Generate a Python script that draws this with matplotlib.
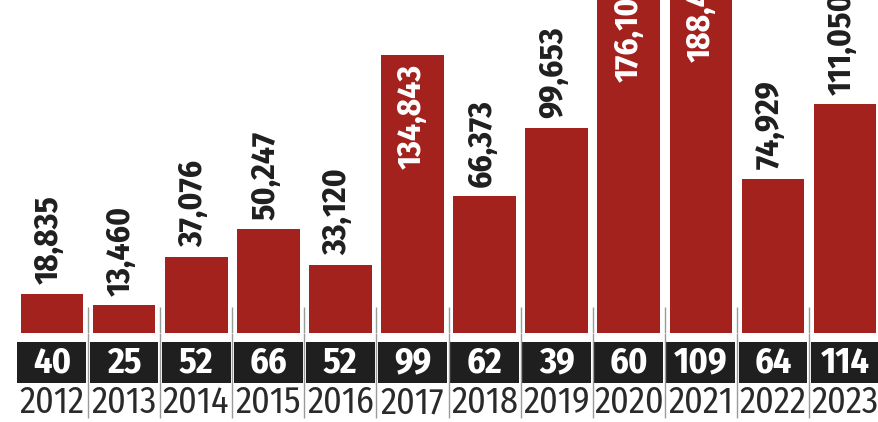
import matplotlib.pyplot as plt
import numpy as np

years = ['2012', '2013', '2014', '2015', '2016', '2017',
         '2018', '2019', '2020', '2021', '2022', '2023']
totals = [18835, 13460, 37076, 50247, 33120, 134843,
          66373, 99653, 176100, 188450, 74929, 111050]
counts = [40, 25, 52, 66, 52, 99, 62, 39, 60, 109, 64, 114]

red = '#a3221e'
dark = '#1f1f1f'
narrow = ['Fira Sans Condensed', 'Roboto Condensed', 'Barlow Semi Condensed',
          'PT Sans Narrow', 'Archivo Narrow', 'DejaVu Sans']

fig = plt.figure(figsize=(8.79, 4.22), dpi=100)
fig.patch.set_facecolor('white')

x = np.arange(len(years))
xlim = (-0.72, 11.47)

# bars, baseline at 333px from top
ax = fig.add_axes([0, 89 / 422, 1, 333 / 422])
ax.set_xlim(*xlim)
ax.set_ylim(0, 333 / 2.06 * 1000)
ax.axis('off')
ax.bar(x, totals, width=0.87, color=red)

for xi, v in zip(x, totals):
    label = f'{v:,}'
    if v > 120000:
        ax.annotate(label, (xi, v), xytext=(0, -6), textcoords='offset points',
                    rotation=90, ha='center', va='top', color='white',
                    fontsize=24, fontweight='bold', family=narrow,
                    annotation_clip=False)
    else:
        ax.annotate(label, (xi, v), xytext=(-2, 7), textcoords='offset points',
                    rotation=90, ha='center', va='bottom', color=dark,
                    fontsize=24, fontweight='bold', family=narrow,
                    annotation_clip=False)

# separators rising a bit above the baseline
ax.vlines(x[:-1] + 0.5, 0, 26 / 2.06 * 1000, color='#9a9a9a', lw=1)

# strip with counts and year labels
ax2 = fig.add_axes([0, 0, 1, 89 / 422])
ax2.set_xlim(*xlim)
ax2.set_ylim(89, 0)
ax2.axis('off')
ax2.bar(x, 41, bottom=9, width=0.955, color=dark)
ax2.vlines(x[:-1] + 0.5, 0, 85, color='#9a9a9a', lw=1)

for xi, c, yr in zip(x, counts, years):
    ax2.text(xi, 30, str(c), ha='center', va='center', color='white',
             fontsize=26, fontweight='bold', family=narrow)
    ax2.text(xi, 70, yr, ha='center', va='center', color='#2a2a2a',
             fontsize=26, family=narrow)

fig.savefig('out.png', dpi=100, facecolor='white')
